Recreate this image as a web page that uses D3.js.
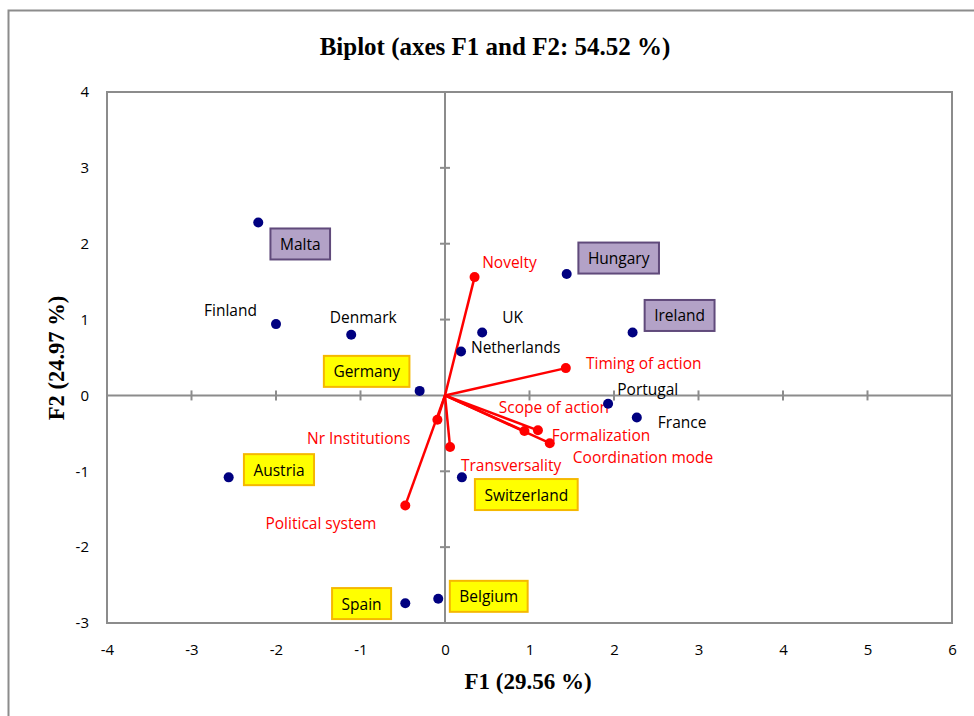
<!DOCTYPE html>
<html><head><meta charset="utf-8">
<script src="https://cdn.jsdelivr.net/npm/d3@7"></script>
<style>body{margin:0;background:#fff}svg{display:block}</style>
</head><body>
<script>
// ---------- data ----------
const countries = ["Malta","Finland","Denmark","Germany","Netherlands","UK","Hungary","Ireland","Portugal","France","Switzerland","Austria","Spain","Belgium"];
const countryF1 = [-2.21,-2.00,-1.11,-0.30,0.19,0.44,1.44,2.22,1.93,2.27,0.20,-2.56,-0.47,-0.08];
const countryF2 = [2.28,0.94,0.80,0.06,0.58,0.83,1.60,0.83,-0.11,-0.29,-1.08,-1.08,-2.74,-2.68];
const countryGroup = ["purple","none","none","yellow","none","none","purple","purple","none","none","yellow","yellow","yellow","yellow"];

const variables = ["Novelty","Timing of action","Scope of action","Formalization","Coordination mode","Nr Institutions","Transversality","Political system"];
const varF1 = [0.35,1.43,0.94,1.10,1.24,-0.09,0.06,-0.47];
const varF2 = [1.56,0.36,-0.47,-0.46,-0.63,-0.32,-0.68,-1.45];

const xTicks = [-4,-3,-2,-1,0,1,2,3,4,5,6];
const yTicks = [-3,-2,-1,0,1,2,3,4];

// label placement (layout, px offsets from point)
const countryLabelOffset = [[42,21.5],[-45.5,-14],[12,-18],[-53,-19.5],[54.6,-4.4],[30.5,-15],[52,-16],[47,-17],[39.7,-14.4],[45.3,4.4],[64.4,17.2],[50.3,-7.7],[-43.7,0.3],[50.5,-2.4]];
const varLabelOffset = [[34.9,-15],[78,-4.7],[29.5,-24],[63,4.6],[93.3,13.4],[-78.7,18.3],[61,18.4],[-84.3,17.6]];

// ---------- drawing ----------
const W = 974, H = 716;
const svg = d3.select("body").append("svg").attr("width", W).attr("height", H);
const L = 107, R = 952, T = 92, B = 623;
const x = d3.scaleLinear().domain([-4,6]).range([L,R]);
const y = d3.scaleLinear().domain([-3,4]).range([B,T]);
const gray = "#8c8c8c";
const sans = "'Open Sans', sans-serif";
const serif = "'Liberation Serif', 'DejaVu Serif', serif";
const fmt = d => String(d);

// outer frame
svg.append("path").attr("d", `M8.5,${H+5} V10.5 H${W+5}`).attr("fill","none").attr("stroke",gray).attr("stroke-width",2);

// title
svg.append("text").attr("x",495).attr("y",55).attr("text-anchor","middle")
  .attr("font-family",serif).attr("font-weight","bold").attr("font-size",25)
  .text("Biplot (axes F1 and F2: 54.52 %)");

// plot border
svg.append("rect").attr("x",L).attr("y",T).attr("width",R-L).attr("height",B-T)
  .attr("fill","none").attr("stroke",gray).attr("stroke-width",2);

// tick labels using axes
const xAxis = d3.axisBottom(x).tickValues(xTicks).tickSize(0).tickPadding(21).tickFormat(fmt);
const gx = svg.append("g").attr("transform",`translate(0,${B})`).call(xAxis);
gx.select(".domain").remove();
gx.selectAll("text").attr("font-family",sans).attr("font-size",15).attr("fill","#000");
const yAxis = d3.axisLeft(y).tickValues(yTicks).tickSize(0).tickPadding(18).tickFormat(fmt);
const gy = svg.append("g").attr("transform",`translate(${L},0)`).call(yAxis);
gy.select(".domain").remove();
gy.selectAll("text").attr("font-family",sans).attr("font-size",15).attr("fill","#000");

// center axes
svg.append("line").attr("x1",L).attr("x2",R).attr("y1",y(0)).attr("y2",y(0)).attr("stroke",gray).attr("stroke-width",2);
svg.append("line").attr("x1",x(0)).attr("x2",x(0)).attr("y1",T).attr("y2",B).attr("stroke",gray).attr("stroke-width",2);
svg.selectAll(".xt").data(xTicks.filter(d=>d>-4 && d<6 && d!==0)).enter().append("line")
  .attr("x1",d=>x(d)).attr("x2",d=>x(d)).attr("y1",y(0)-5).attr("y2",y(0)+5).attr("stroke",gray).attr("stroke-width",2);
svg.selectAll(".yt").data(yTicks.filter(d=>d>-3 && d<4 && d!==0)).enter().append("line")
  .attr("y1",d=>y(d)).attr("y2",d=>y(d)).attr("x1",x(0)-5).attr("x2",x(0)+5).attr("stroke",gray).attr("stroke-width",2);

// axis titles
svg.append("text").attr("x",528).attr("y",689).attr("text-anchor","middle")
  .attr("font-family",serif).attr("font-weight","bold").attr("font-size",23).text("F1 (29.56 %)");
svg.append("text").attr("transform","translate(64,358) rotate(-90)").attr("text-anchor","middle")
  .attr("font-family",serif).attr("font-weight","bold").attr("font-size",22.5).text("F2 (24.97 %)");

// variable vectors
const red = "#ff0000";
variables.forEach((v,i)=>{
  svg.append("line").attr("x1",x(0)).attr("y1",y(0)).attr("x2",x(varF1[i])).attr("y2",y(varF2[i]))
    .attr("stroke",red).attr("stroke-width",2.5);
});
variables.forEach((v,i)=>{
  svg.append("circle").attr("cx",x(varF1[i])).attr("cy",y(varF2[i])).attr("r",5).attr("fill",red);
  svg.append("text").attr("x",x(varF1[i])+varLabelOffset[i][0]).attr("y",y(varF2[i])+varLabelOffset[i][1])
    .attr("text-anchor","middle").attr("dominant-baseline","central")
    .attr("font-family",sans).attr("font-size",15.5).attr("fill",red).text(v);
});

// countries
const boxStyle = {purple:{fill:"#b3a2c7",stroke:"#604a7b"}, yellow:{fill:"#ffff00",stroke:"#f5b800"}};
countries.forEach((c,i)=>{
  const cx = x(countryF1[i]), cy = y(countryF2[i]);
  svg.append("circle").attr("cx",cx).attr("cy",cy).attr("r",5).attr("fill","#000080");
  const tx = cx+countryLabelOffset[i][0], ty = cy+countryLabelOffset[i][1];
  const g = svg.append("g");
  const t = g.append("text").attr("x",tx).attr("y",ty).attr("text-anchor","middle").attr("dominant-baseline","central")
    .attr("font-family",sans).attr("font-size",15.5).attr("fill","#000").text(c);
  if (countryGroup[i] !== "none") {
    const w = t.node().getComputedTextLength() + 19;
    g.insert("rect","text").attr("x",tx-w/2).attr("y",ty-15.5).attr("width",w).attr("height",31)
      .attr("fill",boxStyle[countryGroup[i]].fill).attr("stroke",boxStyle[countryGroup[i]].stroke).attr("stroke-width",2);
  }
});
</script>
</body></html>
